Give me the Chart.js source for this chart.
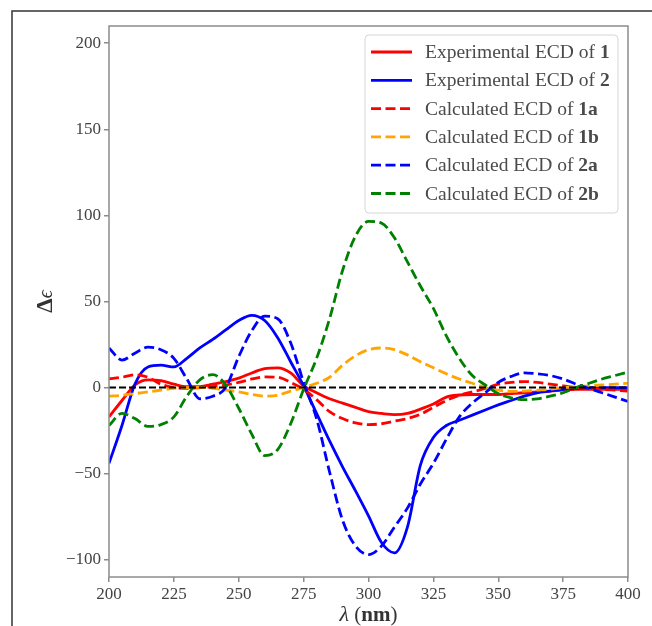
<!DOCTYPE html>
<html>
<head>
<meta charset="utf-8">
<script src="https://cdn.jsdelivr.net/npm/chart.js@4.4.0/dist/chart.umd.min.js"></script>
<style>
  html, body { margin: 0; padding: 0; background: #fff; }
  canvas { display: block; }
</style>
</head>
<body>
<canvas id="ecdChart" width="652" height="626"></canvas>
<script>
// wavelength grid (nm)
const wavelengths = [200, 205, 210, 215, 220, 225, 230, 235, 240, 245, 250, 255, 260, 265, 270, 275, 280, 285, 290, 295, 300,
                     305, 310, 315, 320, 325, 330, 335, 340, 345, 350, 355, 360, 365, 370, 375, 380, 385, 390, 395, 400];

// Δε values
const exp1 = [-17, -7.5, 1.5, 4.5, 4, 2, 0.5, 0.6, 2, 3.5, 5.5, 8.5, 11, 11.5, 8.5, 1, -3, -6.5, -9, -11.5, -14,
              -15, -15.7, -15, -12.5, -9.5, -5.5, -4.3, -4, -4, -4, -3.5, -3, -2.5, -2, -1.5, -1, -1, -1, -1, -1];
const exp2 = [-44, -22, 2, 12, 13, 12, 17, 23, 28, 33.5, 39, 42, 39, 29, 15, 1, -15, -31, -46, -60, -74.5,
              -90, -96, -81, -45, -29, -22, -19, -16, -13, -10, -7.5, -5, -3, -2, -1, -0.5, 0, 0, 0, 0];
const calc1a = [5, 6, 7.5, 6, 2, 0, -0.5, 0, 0.5, 1.5, 3, 5, 6.2, 6, 3, -1, -7, -14, -18, -20.5, -21.5,
                -21, -19.5, -18, -15.5, -11.5, -7.5, -4.5, -2.5, -0.5, 2, 3, 3.5, 3, 2, 1, 0, -0.5, -1, -1.5, -2];
const calc1b = [-5, -4.5, -3.5, -2.5, -1.5, -0.5, 0, 0.1, -0.5, -1.5, -2.5, -4, -5, -4.5, -2, 0, 2.5, 6, 13, 18.5, 22,
                23, 22, 19, 15, 11.5, 8, 5, 2.5, 0, -1.5, -2.2, -2, -1.5, -1, 0, 0.5, 1, 1.5, 2, 2.5];
const calc2a = [23, 16, 20, 23.5, 22, 17, 5, -6.5, -5, 0, 18, 33, 41.5, 40, 26, 3, -18, -49, -77, -92, -97,
                -92, -81, -70, -56, -44, -30, -17, -9, -3, 3, 6.5, 8.5, 8, 7, 5, 2, -0.5, -3, -5.5, -8];
const calc2b = [-22, -15, -18, -22.5, -21.5, -17, -5, 4.5, 7.5, 1.5, -12, -27, -39.5, -36, -21, -1, 17, 40, 68, 88, 96.5,
                95.5, 87, 73, 59, 46, 30, 17, 7, 1.5, -3.5, -6, -7, -6.5, -5, -3, 0, 2.5, 5, 7, 9];

const zeroLineX = [200, 400];
const zeroLineY = [0, 0];

const xTicks = [200, 225, 250, 275, 300, 325, 350, 375, 400];
const yTicks = [-100, -50, 0, 50, 100, 150, 200];

const legendLabels = [
  ['Experimental ECD of ', '1'],
  ['Experimental ECD of ', '2'],
  ['Calculated ECD of ', '1a'],
  ['Calculated ECD of ', '1b'],
  ['Calculated ECD of ', '2a'],
  ['Calculated ECD of ', '2b']
];

const SERIF = '"Liberation Serif", "Times New Roman", serif';
const DASH = [10, 4.5];

function pts(ys, xs) {
  xs = xs || wavelengths;
  return ys.map((y, i) => ({ x: xs[i], y: y }));
}

function series(label, ys, color, dashed, order) {
  return {
    label: label,
    data: pts(ys),
    borderColor: color,
    borderWidth: 2.8,
    borderDash: dashed ? DASH : [],
    cubicInterpolationMode: 'monotone',
    pointRadius: 0,
    fill: false,
    order: order
  };
}

// frame, spines, legend and axis titles
const decorations = {
  id: 'decorations',
  afterDatasetsDraw(chart) {
    const { ctx, chartArea: a } = chart;
    ctx.save();
    ctx.strokeStyle = '#8c8c8c';
    ctx.lineWidth = 1.5;
    ctx.strokeRect(a.left, a.top, a.right - a.left, a.bottom - a.top);
    ctx.restore();
  },
  afterDraw(chart) {
    const { ctx, chartArea: a } = chart;
    ctx.save();

    // outer frame of the figure (left and top edges)
    ctx.strokeStyle = '#333';
    ctx.lineWidth = 1.5;
    ctx.beginPath();
    ctx.moveTo(12, chart.height);
    ctx.lineTo(12, 11);
    ctx.lineTo(chart.width, 11);
    ctx.stroke();

    // legend
    const lw = 253, lh = 178;
    const lx = a.right - 10 - lw, ly = a.top + 9;
    ctx.beginPath();
    ctx.roundRect(lx, ly, lw, lh, 4);
    ctx.fillStyle = 'rgba(255,255,255,0.85)';
    ctx.fill();
    ctx.strokeStyle = '#d6d6d6';
    ctx.lineWidth = 1;
    ctx.stroke();

    const ds = chart.data.datasets;
    legendLabels.forEach((parts, i) => {
      const d = ds[i];
      const yy = ly + 17 + i * 28.3;
      ctx.beginPath();
      ctx.strokeStyle = d.borderColor;
      ctx.lineWidth = d.borderWidth;
      ctx.setLineDash(d.borderDash);
      ctx.moveTo(lx + 6, yy);
      ctx.lineTo(lx + 47, yy);
      ctx.stroke();
      ctx.setLineDash([]);

      ctx.fillStyle = '#4a4a4a';
      ctx.textBaseline = 'middle';
      ctx.textAlign = 'left';
      ctx.font = '19.5px ' + SERIF;
      ctx.fillText(parts[0], lx + 60, yy + 1);
      const w = ctx.measureText(parts[0]).width;
      ctx.font = 'bold 19.5px ' + SERIF;
      ctx.fillText(parts[1], lx + 60 + w, yy + 1);
    });

    // x axis title: λ (nm)
    const xParts = [['italic 22px ' + SERIF, 'λ'], ['21px ' + SERIF, ' ('], ['bold 21px ' + SERIF, 'nm'], ['21px ' + SERIF, ')']];
    let total = 0;
    xParts.forEach(p => { ctx.font = p[0]; total += ctx.measureText(p[1]).width; });
    let cx = (a.left + a.right) / 2 - total / 2;
    ctx.fillStyle = '#333';
    ctx.textBaseline = 'alphabetic';
    xParts.forEach(p => { ctx.font = p[0]; ctx.fillText(p[1], cx, 621); cx += ctx.measureText(p[1]).width; });

    // y axis title: Δε
    ctx.translate(52, (a.top + a.bottom) / 2);
    ctx.rotate(-Math.PI / 2);
    const yParts = [['bold 23px ' + SERIF, 'Δ'], ['italic 20px ' + SERIF, 'ϵ']];
    total = 0;
    yParts.forEach(p => { ctx.font = p[0]; total += ctx.measureText(p[1]).width; });
    cx = -total / 2;
    yParts.forEach(p => { ctx.font = p[0]; ctx.fillText(p[1], cx, 0); cx += ctx.measureText(p[1]).width; });

    ctx.restore();
  }
};

const axisGrid = { display: true, drawOnChartArea: false, drawTicks: true, tickLength: 5, color: '#8c8c8c', lineWidth: 1.5 };

const ctx = document.getElementById('ecdChart').getContext('2d');
const chart = new Chart(ctx, {
  type: 'line',
  data: {
    datasets: [
      series('Experimental ECD of 1', exp1, '#ff0000', false, 6),
      series('Experimental ECD of 2', exp2, '#0000ff', false, 5),
      series('Calculated ECD of 1a', calc1a, '#ff0000', true, 4),
      series('Calculated ECD of 1b', calc1b, '#ffa500', true, 3),
      series('Calculated ECD of 2a', calc2a, '#0000ff', true, 2),
      series('Calculated ECD of 2b', calc2b, '#008000', true, 1),
      {
        label: 'zero',
        data: pts(zeroLineY, zeroLineX),
        borderColor: '#000',
        borderWidth: 2,
        borderDash: [7, 3],
        pointRadius: 0,
        fill: false,
        order: 0
      }
    ]
  },
  options: {
    responsive: false,
    animation: false,
    layout: { padding: { left: 12, top: 26, right: 24, bottom: 0 } },
    plugins: {
      legend: { display: false },
      tooltip: { enabled: false }
    },
    scales: {
      x: {
        type: 'linear',
        min: 200,
        max: 400,
        afterBuildTicks: s => { s.ticks = xTicks.map(v => ({ value: v })); },
        afterFit: s => { s.height = 49; },
        grid: axisGrid,
        border: { display: false },
        ticks: { font: { family: SERIF, size: 17 }, color: '#444', padding: 2, maxRotation: 0 }
      },
      y: {
        type: 'linear',
        min: -110,
        max: 210,
        afterBuildTicks: s => { s.ticks = yTicks.map(v => ({ value: v })); },
        afterFit: s => { s.width = 97; },
        grid: axisGrid,
        border: { display: false },
        ticks: {
          font: { family: SERIF, size: 17 },
          color: '#444',
          padding: 3,
          callback: v => (v < 0 ? '\u2212' + Math.abs(v) : String(v))
        }
      }
    }
  },
  plugins: [decorations]
});
</script>
</body>
</html>
